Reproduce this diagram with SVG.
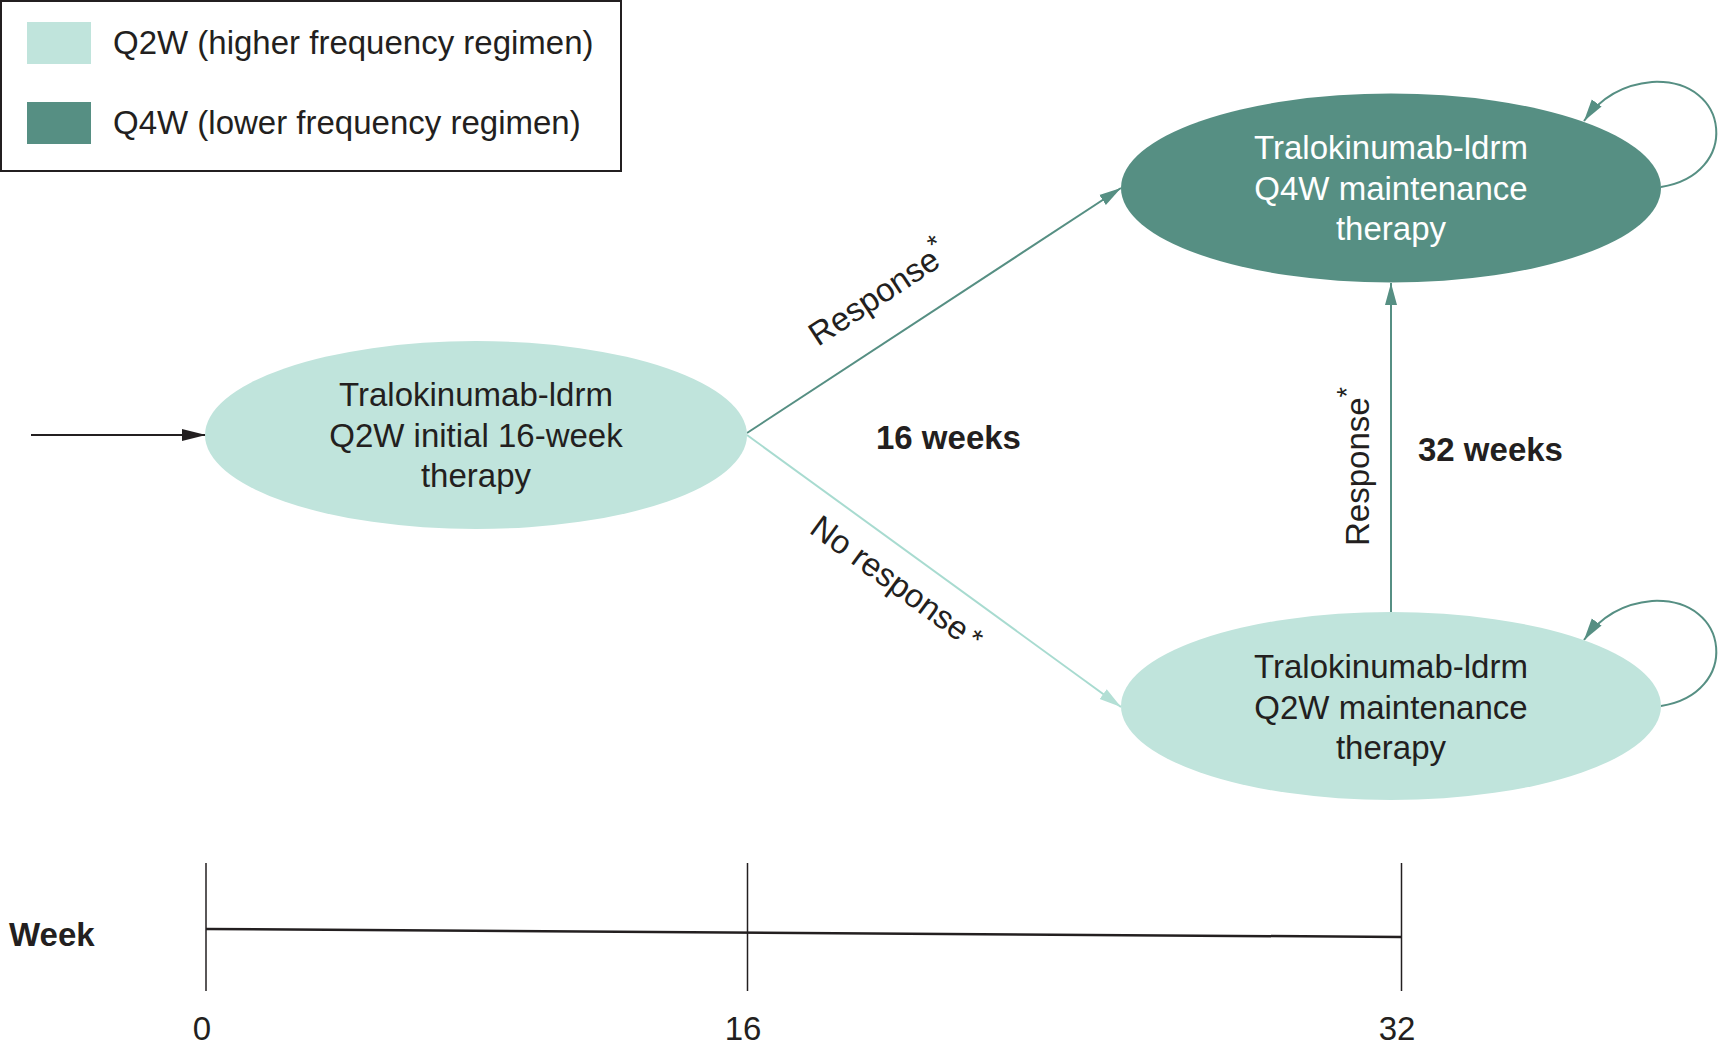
<svg xmlns="http://www.w3.org/2000/svg" width="1721" height="1047" viewBox="0 0 1721 1047">
<defs>
<style>
text{font-family:"Liberation Sans",Arial,sans-serif;fill:#231f20}
.t{font-size:33px}
.w{fill:#ffffff}
.b{font-weight:bold;font-size:33px}
.lab{font-size:33px}
.light{fill:#c0e4dc}
.dark{fill:#568f83}
.edk{stroke:#568f83;stroke-width:2;fill:none}
.elt{stroke:#a8dbd0;stroke-width:2;fill:none}
</style>
<marker id="ab" markerUnits="userSpaceOnUse" markerWidth="26" markerHeight="14" refX="24" refY="7" orient="auto"><path d="M0,1 L24,7 L0,13 Z" fill="#231f20"/></marker>
<marker id="ad" markerUnits="userSpaceOnUse" markerWidth="24" markerHeight="14" refX="22" refY="7" orient="auto"><path d="M0,1 L22,7 L0,13 Z" fill="#568f83"/></marker>
<marker id="al" markerUnits="userSpaceOnUse" markerWidth="24" markerHeight="14" refX="22" refY="7" orient="auto"><path d="M0,1 L22,7 L0,13 Z" fill="#b3dfd5"/></marker>
</defs>
<rect width="1721" height="1047" fill="#ffffff"/>
<g id="legend">
<rect x="1" y="1" width="620" height="170" fill="#ffffff" stroke="#231f20" stroke-width="2"/>
<rect x="27" y="22" width="64" height="42" class="light"/>
<rect x="27" y="102" width="64" height="42" class="dark"/>
<text class="t" x="113" y="54" font-size="33.3">Q2W (higher frequency regimen)</text>
<text class="t" x="113" y="134" font-size="33.3">Q4W (lower frequency regimen)</text>
</g>
<g id="connectors">
<line x1="31" y1="435" x2="206" y2="435" stroke="#231f20" stroke-width="2" marker-end="url(#ab)"/>
<line x1="747" y1="433" x2="1121" y2="188" class="edk" marker-end="url(#ad)"/>
<line x1="747" y1="435" x2="1121" y2="707" class="elt" marker-end="url(#al)"/>
<line x1="1391" y1="612" x2="1391" y2="283" class="edk" marker-end="url(#ad)"/>
<path d="M1661,187 C1740,175 1732,78 1652,82 C1617,85 1596,104 1584,121" class="edk" marker-end="url(#ad)"/>
<path d="M1661,706 C1740,694 1732,597 1652,601 C1617,604 1596,623 1584,640" class="edk" marker-end="url(#ad)"/>
<text class="lab" transform="translate(818,347) rotate(-33.3)">Response<tspan font-size="27" dy="-13">*</tspan></text>
<text class="lab" transform="translate(808,532) rotate(36.1)">No response<tspan dx="5" dy="-2" font-size="29">*</tspan></text>
<text class="lab" transform="translate(1369,546) rotate(-90)">Response<tspan font-size="27" dy="-13">*</tspan></text>
<text class="b" x="876" y="449">16 weeks</text>
<text class="b" x="1418" y="461">32 weeks</text>
</g>
<g id="node-initial">
<ellipse cx="476" cy="435" rx="271" ry="94" class="light"/>
<text class="t" text-anchor="middle"><tspan x="476" y="406">Tralokinumab-ldrm</tspan><tspan x="476" y="447">Q2W initial 16-week</tspan><tspan x="476" y="487">therapy</tspan></text>
</g>
<g id="node-q4w">
<ellipse cx="1391" cy="188" rx="270" ry="94.5" class="dark"/>
<text class="t w" text-anchor="middle"><tspan x="1391" y="159">Tralokinumab-ldrm</tspan><tspan x="1391" y="200">Q4W maintenance</tspan><tspan x="1391" y="240">therapy</tspan></text>
</g>
<g id="node-q2w">
<ellipse cx="1391" cy="706" rx="270" ry="94" class="light"/>
<text class="t" text-anchor="middle"><tspan x="1391" y="678">Tralokinumab-ldrm</tspan><tspan x="1391" y="719">Q2W maintenance</tspan><tspan x="1391" y="759">therapy</tspan></text>
</g>
<g id="timeline">
<text class="b" x="9" y="946" font-size="32">Week</text>
<line x1="206" y1="863" x2="206" y2="991" stroke="#231f20" stroke-width="1.5"/>
<line x1="747.5" y1="863" x2="747.5" y2="991" stroke="#231f20" stroke-width="1.5"/>
<line x1="1401.5" y1="863" x2="1401.5" y2="991" stroke="#231f20" stroke-width="1.5"/>
<line x1="206" y1="929" x2="1401.5" y2="937" stroke="#231f20" stroke-width="2.5"/>
<text class="t" x="202" y="1040" text-anchor="middle" font-size="30">0</text>
<text class="t" x="743" y="1040" text-anchor="middle" font-size="30">16</text>
<text class="t" x="1397" y="1040" text-anchor="middle" font-size="30">32</text>
</g>
</svg>
